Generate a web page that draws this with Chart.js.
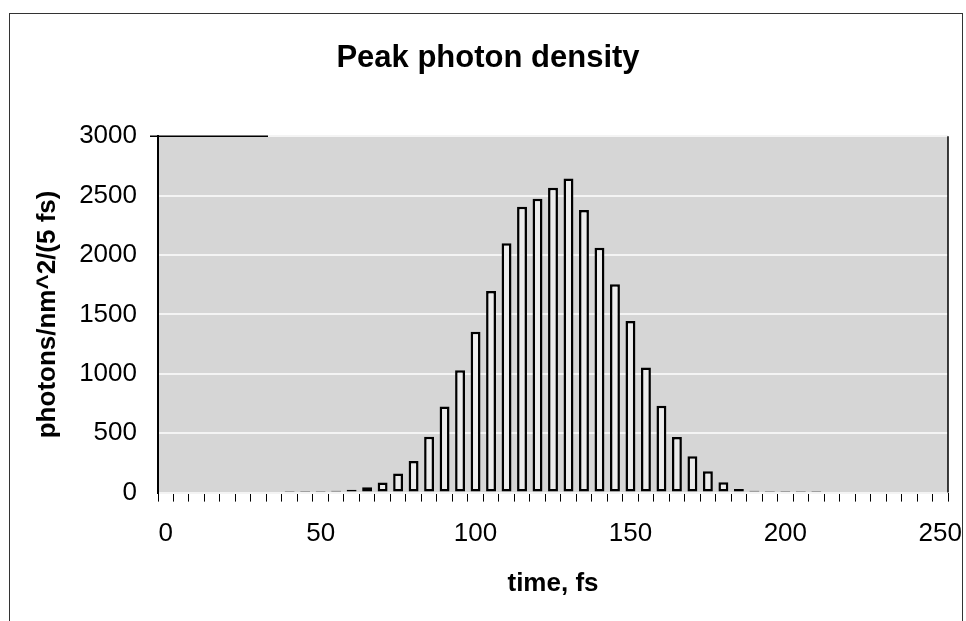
<!DOCTYPE html>
<html>
<head>
<meta charset="utf-8">
<script src="https://cdn.jsdelivr.net/npm/chart.js@4.4.1/dist/chart.umd.min.js"></script>
<style>
  html, body { margin: 0; padding: 0; background: #fff; }
  canvas { display: block; }
</style>
</head>
<body>
<canvas id="photonChart" width="966" height="621"></canvas>
<script>
// time bins, fs (every 5 fs from 0 to 250)
const times = ['0', '5', '10', '15', '20', '25', '30', '35', '40', '45',
    '50', '55', '60', '65', '70', '75', '80', '85', '90', '95',
    '100', '105', '110', '115', '120', '125', '130', '135', '140', '145',
    '150', '155', '160', '165', '170', '175', '180', '185', '190', '195',
    '200', '205', '210', '215', '220', '225', '230', '235', '240', '245', '250'];

// photons/nm^2 per 5 fs bin
const photons = [0, 0, 0, 0, 0, 0, 0, 0, 14, 14,
    14, 16, 25, 45, 85, 160, 265, 470, 725, 1030,
    1355, 1697, 2098, 2406, 2473, 2566, 2644, 2378, 2061, 1754,
    1445, 1053, 731, 468, 305, 179, 87, 31, 16, 14,
    14, 14, 14, 0, 0, 0, 0, 0, 0, 0, 0];

const yTicks = [0, 500, 1000, 1500, 2000, 2500, 3000];

const fontFamily = "'Liberation Sans', Arial, sans-serif";

// plot background, outer frame and right edge of the plot area
const framePlugin = {
    id: 'frame',
    beforeDraw(chart) {
        const { ctx, chartArea: a } = chart;
        ctx.save();
        ctx.fillStyle = '#d6d6d6';
        ctx.fillRect(a.left, a.top, a.right - a.left, a.bottom - a.top);
        ctx.strokeStyle = '#333';
        ctx.lineWidth = 1;
        ctx.strokeRect(9.5, 13.5, 953, 620);
        ctx.restore();
    },
    afterDraw(chart) {
        const { ctx, chartArea: a } = chart;
        ctx.save();
        ctx.strokeStyle = '#000';
        ctx.lineWidth = 1.5;
        ctx.beginPath();
        ctx.moveTo(a.right, a.top);
        ctx.lineTo(a.right, a.bottom);
        ctx.moveTo(a.left - 8, a.top);
        ctx.lineTo(a.left + 110, a.top);
        ctx.stroke();
        ctx.restore();
    }
};

const ctx = document.getElementById('photonChart').getContext('2d');
const photonChart = new Chart(ctx, {
    type: 'bar',
    data: {
        labels: times,
        datasets: [{
            label: 'photons',
            data: photons,
            backgroundColor: '#ececec',
            borderColor: '#000',
            borderWidth: 2.5,
            borderSkipped: false,
            barPercentage: 0.64,
            categoryPercentage: 1
        }]
    },
    plugins: [framePlugin],
    options: {
        responsive: false,
        animation: false,
        layout: { padding: { left: 28, right: 18, top: 0, bottom: 20 } },
        plugins: {
            legend: { display: false },
            tooltip: { enabled: false },
            title: {
                display: true,
                text: 'Peak photon density',
                color: '#000',
                font: { family: fontFamily, size: 31, weight: 'bold' },
                padding: { top: 40, bottom: 59 }
            }
        },
        scales: {
            x: {
                offset: true,
                border: { display: false },
                grid: {
                    display: true,
                    drawOnChartArea: false,
                    drawTicks: true,
                    tickLength: 9,
                    tickColor: '#000',
                    tickWidth: 1,
                    offset: true
                },
                ticks: {
                    autoSkip: false,
                    maxRotation: 0,
                    padding: 17,
                    color: '#000',
                    font: { family: fontFamily, size: 26 },
                    callback: function (value, index) {
                        return index % 10 === 0 ? times[index] : '';
                    }
                },
                title: {
                    display: true,
                    text: 'time, fs',
                    color: '#000',
                    font: { family: fontFamily, size: 26, weight: 'bold' },
                    padding: { top: 1, bottom: 2 }
                },
                afterFit(scale) {
                    scale.paddingLeft = 0;
                    scale.paddingRight = 0;
                }
            },
            y: {
                min: 0,
                max: 3000,
                border: { display: true, color: '#000', width: 2 },
                grid: {
                    color: '#f4f4f4',
                    lineWidth: 2,
                    drawTicks: false
                },
                afterBuildTicks(scale) {
                    scale.ticks = yTicks.map(v => ({ value: v }));
                },
                afterFit(scale) {
                    scale.width = 130;
                },
                ticks: {
                    padding: 21,
                    color: '#000',
                    font: { family: fontFamily, size: 26 },
                    callback: value => String(value)
                },
                title: {
                    display: true,
                    text: 'photons/nm^2/(5 fs)',
                    color: '#000',
                    font: { family: fontFamily, size: 26, weight: 'bold' },
                    padding: { top: 4, bottom: 4 }
                }
            }
        }
    }
});
</script>
</body>
</html>
